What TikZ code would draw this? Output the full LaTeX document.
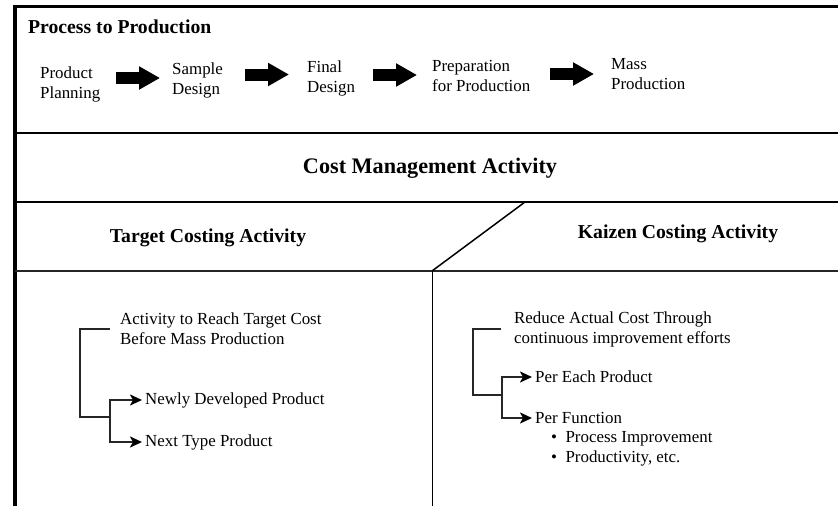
\documentclass[tikz,border=0pt]{standalone}
\usepackage{fontspec}
\setmainfont{Liberation Serif}
\usetikzlibrary{arrows.meta}

\tikzset{
  head/.style={font=\fontsize{19.7}{23}\selectfont\bfseries, inner sep=0pt},
  body/.style={font=\fontsize{16.9}{20}\selectfont, align=left, inner sep=0pt, anchor=west},
  procarrow/.style={line width=12pt, -{Triangle[length=21pt,width=22pt]}},
  bracket/.style={line width=2.3pt, black!85},
  branch/.style={line width=2.3pt, black!85, shorten >=3pt, -{Stealth[length=12pt,width=11pt,inset=3pt,color=black]}},
}

\begin{document}
\begin{tikzpicture}[x=1pt,y=-1pt,line join=miter]
  \useasboundingbox (0,0) rectangle (838,506);
  % frame and dividing lines
  \draw[line width=3pt] (13,6) -- (838,6);
  \draw[line width=4pt] (15,4.5) -- (15,506);
  \draw[line width=2pt] (15,133) -- (838,133);
  \draw[line width=2pt] (15,202) -- (838,202);
  \draw[line width=1.5pt, black!85] (15,271) -- (838,271);
  \draw[line width=1.5pt] (525,202) -- (432,271);
  \draw[line width=1pt] (432,271) -- (432,506);

  % process to production
  \node[head, anchor=west] (title) at (28,27) {Process to Production};
  \node[body] (pp) at (40,84) {Product\\Planning};
  \node[body] (sd) at (172,80) {Sample\\Design};
  \node[body] (fd) at (307,78.5) {Final\\Design};
  \node[body] (pfp) at (432,76) {Preparation\\for Production};
  \node[body] (mp) at (611,74.5) {Mass\\Production};
  \foreach \xa/\ya in {116/78, 245/74.5, 373/75, 550/74}
    \draw[procarrow] (\xa,\ya) -- ++(44,0);

  % headings
  \node[head, font=\fontsize{22.2}{26}\selectfont\bfseries] (cma) at (430,168) {Cost Management Activity};
  \node[head] (tca) at (208,238) {Target Costing Activity};
  \node[head] (kca) at (678,234) {Kaizen Costing Activity};

  % target costing
  \node[body] (act) at (120,329) {Activity to Reach Target Cost\\Before Mass Production};
  \node[body] (ndp) at (145,400) {Newly Developed Product};
  \node[body] (ntp) at (145,442) {Next Type Product};
  \coordinate (tj) at (110,417);
  \draw[bracket] ([xshift=-10pt]act.west) -| (80,417) -- (tj);
  \draw[branch] (tj) |- (ndp.west);
  \draw[branch] (tj) |- (ntp.west);

  % kaizen costing
  \node[body] (rac) at (514,329) {Reduce Actual Cost Through\\continuous improvement efforts};
  \node[body] (pep) at (535,377) {Per Each Product};
  \node[body] (pf) at (535,418) {Per Function};
  \node[body] (bul) at (551,448.5) {\textbullet\ \ Process Improvement\\\textbullet\ \ Productivity, etc.};
  \coordinate (kj) at (502,395);
  \draw[bracket] ([xshift=-13pt]rac.west) -| (473,395) -- (kj);
  \draw[branch] (kj) |- (pep.west);
  \draw[branch] (kj) |- (pf.west);
\end{tikzpicture}
\end{document}
